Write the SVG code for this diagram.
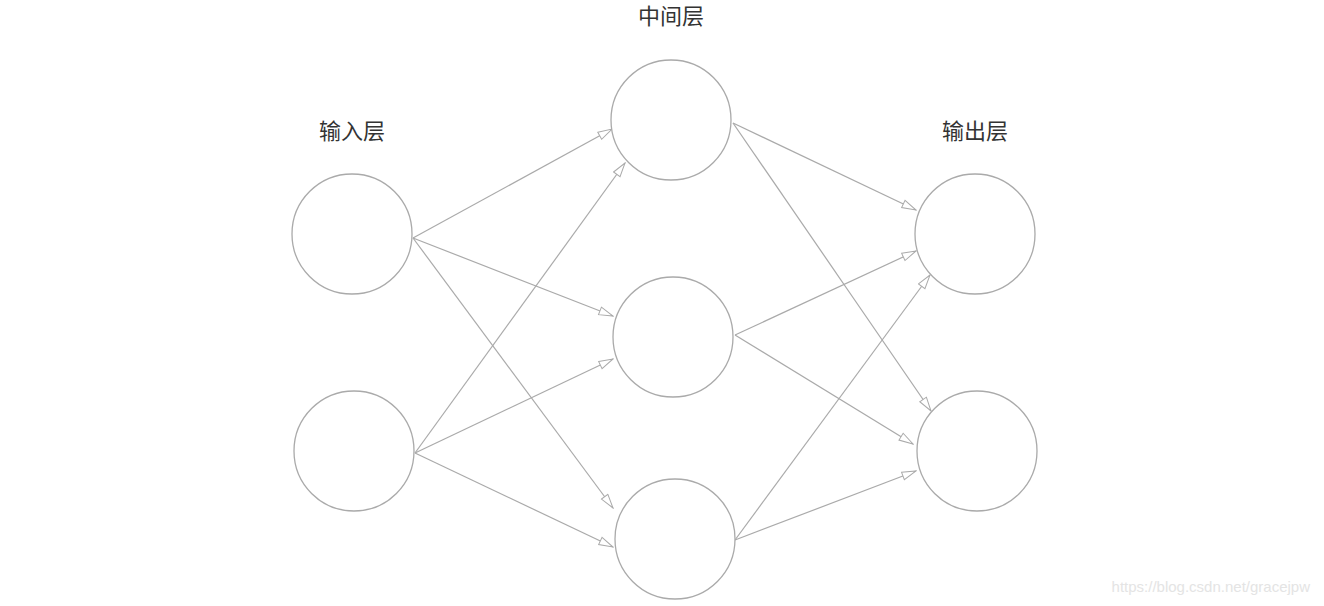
<svg xmlns="http://www.w3.org/2000/svg" width="1324" height="606" viewBox="0 0 1324 606">
<defs>
<style>
.n{fill:#fff;stroke:#aaa;stroke-width:1.3}
.e{stroke:#aaa;stroke-width:1.2;fill:none;marker-end:url(#a)}
.t{font-family:"Noto Sans CJK SC",sans-serif;font-size:22px;fill:#333;text-anchor:middle}
</style>
<marker id="a" markerWidth="16" markerHeight="10" refX="15" refY="5" orient="auto" markerUnits="userSpaceOnUse">
<path d="M1,1 L15,5 L1,9 Z" fill="#fff" stroke="#aaa" stroke-width="1"/>
</marker>
</defs>
<rect width="1324" height="606" fill="#fff"/>
<g id="connectors">
<line class="e" x1="413" y1="238" x2="612" y2="129"/>
<line class="e" x1="413" y1="238" x2="613" y2="316"/>
<line class="e" x1="413" y1="238" x2="613" y2="508"/>
<line class="e" x1="415" y1="453" x2="625" y2="163"/>
<line class="e" x1="415" y1="453" x2="613" y2="359"/>
<line class="e" x1="415" y1="453" x2="613" y2="547"/>
<line class="e" x1="733" y1="123" x2="916" y2="210"/>
<line class="e" x1="733" y1="123" x2="931" y2="411"/>
<line class="e" x1="735" y1="335" x2="916" y2="251"/>
<line class="e" x1="735" y1="335" x2="913" y2="444"/>
<line class="e" x1="735" y1="540" x2="930" y2="275"/>
<line class="e" x1="735" y1="540" x2="916" y2="471"/>
</g>
<g id="in1"><circle class="n" cx="352" cy="234" r="60"/></g>
<g id="in2"><circle class="n" cx="354" cy="451" r="60"/></g>
<g id="h1"><circle class="n" cx="671" cy="120" r="60"/></g>
<g id="h2"><circle class="n" cx="673" cy="337" r="60"/></g>
<g id="h3"><circle class="n" cx="675" cy="539" r="60"/></g>
<g id="o1"><circle class="n" cx="975" cy="234" r="60"/></g>
<g id="o2"><circle class="n" cx="977" cy="451" r="60"/></g>
<text class="t" x="352" y="139">输入层</text>
<text class="t" x="671" y="24">中间层</text>
<text class="t" x="975" y="139">输出层</text>
<text x="1310" y="592" font-family="Liberation Sans,sans-serif" font-size="15" fill="#e4e4e4" text-anchor="end">https://blog.csdn.net/gracejpw</text>
</svg>
